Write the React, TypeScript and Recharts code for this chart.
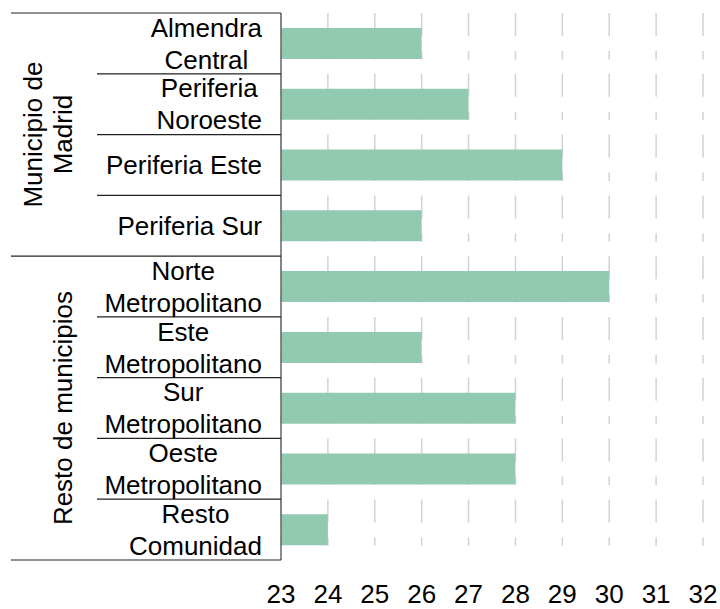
import { BarChart, Bar, XAxis, YAxis, CartesianGrid } from 'recharts'

// ── Data ─────────────────────────────────────────────────────────────────────

const regions = [
  'Almendra\nCentral',
  'Periferia\nNoroeste',
  'Periferia Este',
  'Periferia Sur',
  'Norte\nMetropolitano',
  'Este\nMetropolitano',
  'Sur\nMetropolitano',
  'Oeste\nMetropolitano',
  'Resto\nComunidad',
]
const values = [26, 27, 29, 26, 30, 26, 28, 28, 24]
const groupNames = [['Municipio de', 'Madrid'], ['Resto de municipios']]
const groupSizes = [4, 5]
const xTicks = [23, 24, 25, 26, 27, 28, 29, 30, 31, 32]

const data = regions.map((region, i) => ({ region, value: values[i] }))

// ── Helpers ──────────────────────────────────────────────────────────────────

const FONT = '"Liberation Sans", Arial, sans-serif'
const FONT_SIZE = 26
const LABEL_GAP = 19
const LINE_H = 32

let ctx: CanvasRenderingContext2D | null = null
function measure(s: string) {
  if (!ctx) {
    ctx = document.createElement('canvas').getContext('2d')
  }
  if (!ctx) return s.length * FONT_SIZE * 0.55
  ctx.font = `${FONT_SIZE}px ${FONT}`
  return ctx.measureText(s).width
}

function groupOf(index: number) {
  let start = 0
  for (let g = 0; g < groupSizes.length; g++) {
    if (index < start + groupSizes[g]) return { g, start, end: start + groupSizes[g] - 1 }
    start += groupSizes[g]
  }
  return { g: groupSizes.length - 1, start: 0, end: 0 }
}

function RegionTick(props: any) {
  const { x, y, payload, index, height, visibleTicksCount } = props
  const row =
    height && visibleTicksCount ? height / visibleTicksCount : payload.offset ? payload.offset * 2 : 60.8
  const axisX = x + LABEL_GAP
  const lines = String(payload.value).split('\n')
  const w = Math.max(...lines.map(measure))
  const cx = x - w / 2
  const grp = groupOf(index)
  const isGroupEnd = index === grp.end
  const groupLabel = index === grp.start ? groupNames[grp.g] : null
  const groupCy = y - row / 2 + (groupSizes[grp.g] * row) / 2

  return (
    <g>
      {index === 0 && (
        <line x1={11} x2={axisX} y1={y - row / 2} y2={y - row / 2} stroke="#222" strokeWidth={1.2} />
      )}
      <line
        x1={isGroupEnd ? 11 : 97}
        x2={axisX}
        y1={y + row / 2}
        y2={y + row / 2}
        stroke="#222"
        strokeWidth={1.2}
      />
      {lines.map((l, i) => (
        <text
          key={i}
          x={cx}
          y={y + (i - (lines.length - 1) / 2) * LINE_H + 9.3}
          textAnchor="middle"
          fontSize={FONT_SIZE}
          fontFamily={FONT}
          fill="#000"
        >
          {l}
        </text>
      ))}
      {groupLabel &&
        groupLabel.map((l, i) => (
          <text
            key={'g' + i}
            x={0}
            y={0}
            transform={`translate(${72 - (groupLabel.length - 1 - i) * 30},${groupCy}) rotate(-90)`}
            textAnchor="middle"
            fontSize={FONT_SIZE}
            fontFamily={FONT}
            fill="#000"
          >
            {l}
          </text>
        ))}
    </g>
  )
}

function ValueTick(props: any) {
  const { x, y, payload } = props
  return (
    <text x={x} y={y + 43} textAnchor="middle" fontSize={FONT_SIZE} fontFamily={FONT} fill="#000">
      {payload.value}
    </text>
  )
}

// ── Component ────────────────────────────────────────────────────────────────

export default function App() {
  return (
    <div style={{ position: 'absolute', left: 0, top: 0, background: '#fff' }}>
      <BarChart
        width={720}
        height={609}
        data={data}
        layout="vertical"
        margin={{ top: 13, right: 17, bottom: 0, left: 0 }}
      >
        <CartesianGrid
          horizontal={false}
          stroke="#d2d2d2"
          strokeWidth={1.5}
          strokeDasharray="23 15 8.4 14.4"
        />
        <XAxis
          type="number"
          domain={[23, 32]}
          ticks={xTicks}
          allowDataOverflow
          axisLine={false}
          tickLine={false}
          tickSize={0}
          tickMargin={0}
          height={49}
          tick={<ValueTick />}
          interval={0}
        />
        <YAxis
          type="category"
          dataKey="region"
          width={281}
          axisLine={{ stroke: '#666', strokeWidth: 1.5 }}
          tickLine={false}
          tickSize={0}
          tickMargin={LABEL_GAP}
          interval={0}
          tick={<RegionTick />}
        />
        <Bar dataKey="value" fill="#91cab0" barSize={31} isAnimationActive={false} />
      </BarChart>
    </div>
  )
}
